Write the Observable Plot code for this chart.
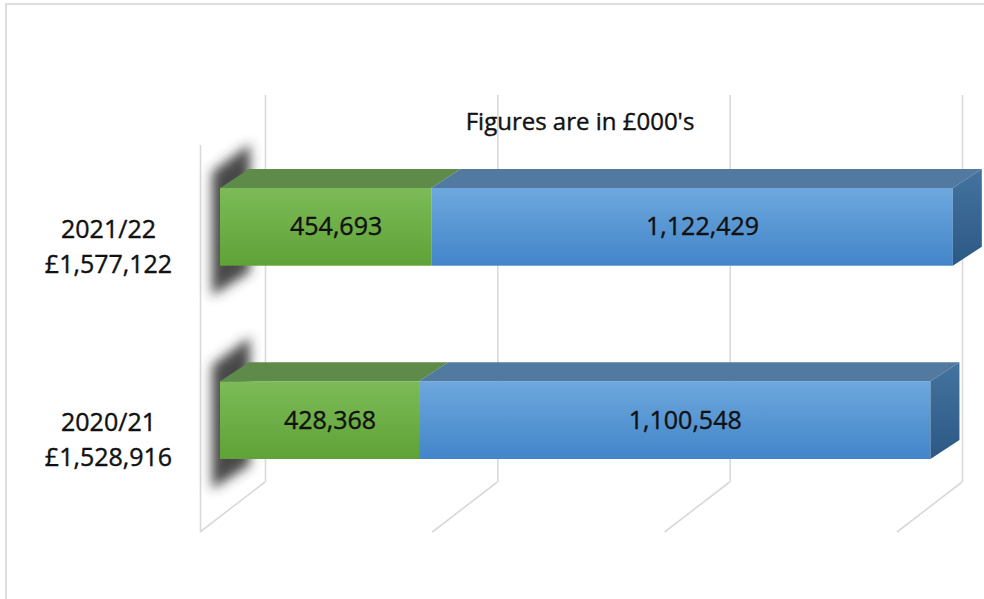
<!DOCTYPE html>
<html><head><meta charset="utf-8">
<script src="https://cdn.jsdelivr.net/npm/d3@7"></script>
<script src="https://cdn.jsdelivr.net/npm/@observablehq/plot@0.6"></script>
<style>
html,body{margin:0;padding:0;background:#fff;}
#wrap{position:relative;width:984px;height:599px;overflow:hidden;}
#border{position:absolute;left:5px;top:3px;right:-10px;bottom:-10px;border-left:2px solid #dedede;border-top:2px solid #dedede;pointer-events:none;}
</style></head><body><div id="wrap"><div id="chart"></div><div id="border"></div></div>
<script>
// ---- data ----
const years = ["2021/22", "2020/21"];
const greenValues = [454693, 428368];
const blueValues = [1122429, 1100548];
const xTicks = [0, 500000, 1000000, 1500000];
const title = "Figures are in £000's";
const seriesNames = ["green", "blue"];

// ---- styles ----
const FONT = "'Open Sans', sans-serif";
const FRONT_DX = 20;          // bar front face sits inside the 3D box
const DEPTH_DX = 29, DEPTH_DY = -19; // bar depth
const WALL_DX = 65, WALL_DY = -50;  // box depth
const frontFill = {green: "url(#gradGreen)", blue: "url(#gradBlue)"};
const topFill = {green: "#5e8a4a", blue: "#52799f"};
const gridColor = "#d9d9d9";
const textStyle = {fontSize: 25, fill: "#111", stroke: "#111", strokeWidth: 0.4, fontFamily: FONT};

const rows = [];
years.forEach((y, i) => {
  rows.push({year: y, series: "green", value: greenValues[i]});
  rows.push({year: y, series: "blue", value: blueValues[i]});
});
const totals = years.map((y, i) => greenValues[i] + blueValues[i]);
const fmt = d3.format(",");

function defs() {
  const g = d3.create("svg:g");
  const d = g.append("defs");
  const grad = (id, c0, c1) => {
    const lg = d.append("linearGradient").attr("id", id)
      .attr("x1", 0).attr("y1", 0).attr("x2", 0).attr("y2", 1);
    lg.append("stop").attr("offset", "0%").attr("stop-color", c0);
    lg.append("stop").attr("offset", "100%").attr("stop-color", c1);
  };
  grad("gradGreen", "#7cbb58", "#5fa236");
  grad("gradBlue", "#6ea8de", "#4285c9");
  grad("gradSide", "#44739f", "#2c5884");
  d.append("filter").attr("id", "shadowBlur").attr("x", "-80%").attr("y", "-50%").attr("width", "260%").attr("height", "200%")
    .append("feGaussianBlur").attr("stdDeviation", 6);
  return g.node();
}

function bandOf(sy) {
  return typeof sy.bandwidth === "function" ? sy.bandwidth() : 77.7;
}

function floorLines(index, scales) {
  const sx = scales.x;
  const g = d3.create("svg:g").attr("stroke", gridColor).attr("stroke-width", 1.6).attr("fill", "none");
  const yBack = 482, yFront = yBack - WALL_DY;
  xTicks.forEach(t => {
    const xf = sx(t);
    g.append("line").attr("x1", xf + WALL_DX).attr("y1", yBack).attr("x2", xf).attr("y2", yFront);
  });
  return g.node();
}

function shadows(index, scales) {
  const sx = scales.x, sy = scales.y, bw = bandOf(sy);
  const g = d3.create("svg:g").attr("filter", "url(#shadowBlur)");
  years.forEach(y => {
    const x0 = sx(0) + FRONT_DX, yt = sy(y), yb = yt + bw;
    g.append("polygon")
      .attr("points", [[x0 - 8, yt - 16], [x0 + 30, yt - 44], [x0 + 30, yb + 6], [x0 - 8, yb + 30]].map(p => p.join(",")).join(" "))
      .attr("fill", "#333").attr("fill-opacity", 0.9);
  });
  return g.node();
}

function depthFaces(index, scales) {
  const sx = scales.x, sy = scales.y, bw = bandOf(sy);
  const g = d3.create("svg:g");
  years.forEach((y, i) => {
    const yt = sy(y), yb = yt + bw;
    let start = 0;
    const vals = [greenValues[i], blueValues[i]];
    vals.forEach((v, k) => {
      const a = sx(start) + FRONT_DX, b = sx(start + v) + FRONT_DX;
      g.append("polygon")
        .attr("points", [[a, yt], [a + DEPTH_DX, yt + DEPTH_DY], [b + DEPTH_DX, yt + DEPTH_DY], [b, yt]].map(p => p.join(",")).join(" "))
        .attr("fill", topFill[seriesNames[k]]);
      start += v;
    });
    const e = sx(start) + FRONT_DX;
    g.append("polygon")
      .attr("points", [[e, yt], [e + DEPTH_DX, yt + DEPTH_DY], [e + DEPTH_DX, yb + DEPTH_DY], [e, yb]].map(p => p.join(",")).join(" "))
      .attr("fill", "url(#gradSide)");
  });
  return g.node();
}

const chart = Plot.plot({
  width: 984,
  height: 599,
  marginLeft: 200,
  marginRight: 87,
  marginTop: 95,
  marginBottom: 117,
  style: {fontFamily: FONT, background: "transparent"},
  x: {domain: [0, 1500000], axis: null},
  y: {domain: years, range: [188, 459], paddingInner: 0.598, paddingOuter: 0, round: false, axis: null},
  color: {type: "identity"},
  marks: [
    defs,
    Plot.ruleX(xTicks, {x: d => d, dx: WALL_DX, stroke: gridColor, strokeWidth: 1.6}),
    Plot.ruleX([xTicks[0]], {x: d => d, dy: -WALL_DY, stroke: gridColor, strokeWidth: 1.6}),
    floorLines,
    shadows,
    Plot.barX(rows, {x: "value", y: "year", fill: d => frontFill[d.series], dx: FRONT_DX}),
    depthFaces,
    Plot.text(rows, Plot.stackX({x: "value", y: "year", text: d => fmt(d.value), dx: FRONT_DX + 10, ...textStyle})),
    Plot.text(years, {y: d => d, text: (d, i) => d + "\n£" + fmt(totals[i]), frameAnchor: "left", dx: -92, dy: 17, textAnchor: "middle", lineAnchor: "middle", lineHeight: 1.4, ...textStyle}),
    Plot.text([title], {text: d => d, frameAnchor: "top", dx: 31, dy: 27, lineAnchor: "middle", ...textStyle, fontSize: 24})
  ]
});
document.getElementById("chart").appendChild(chart);
</script>
</body></html>
